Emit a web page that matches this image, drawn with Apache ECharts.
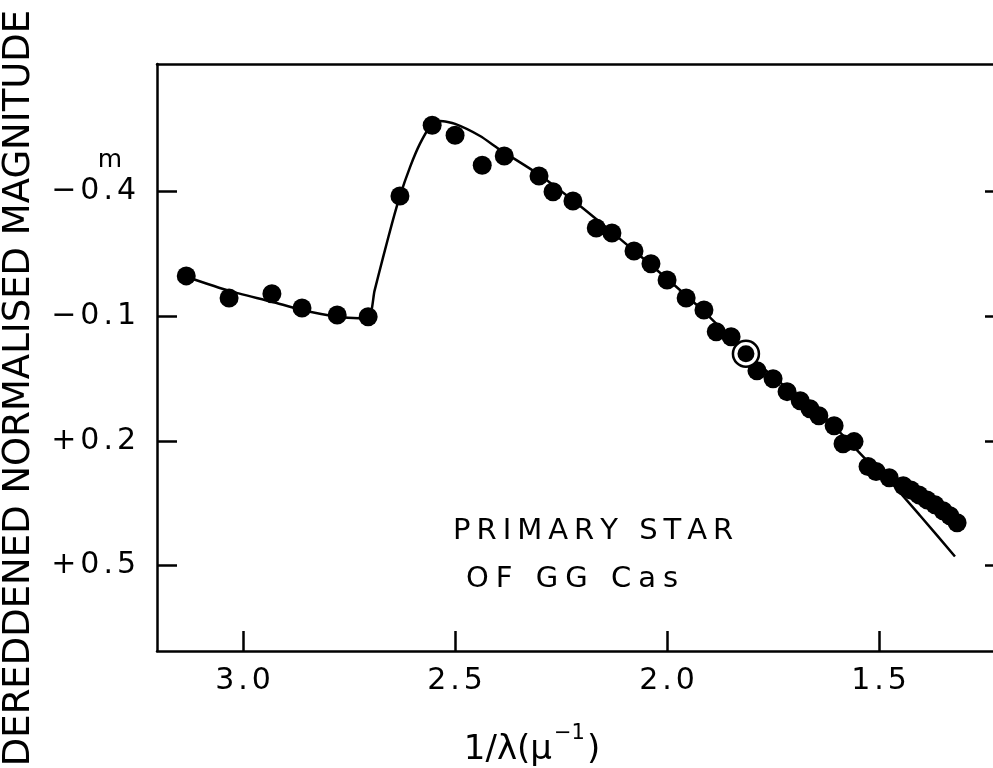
<!DOCTYPE html>
<html>
<head>
<meta charset="utf-8">
<script src="https://cdn.jsdelivr.net/npm/echarts@6/dist/echarts.min.js"></script>
<style>
html, body { margin: 0; background: #fff; }
#chart { width: 993px; height: 768px; }
</style>
</head>
<body>
<div id="chart"></div>
<script>
// tick positions
const xTicks = [3.0, 2.5, 2.0, 1.5];
const yTicks = [-0.4, -0.1, 0.2, 0.5];

// observed points (1/lambda, magnitude)
const dotX = [3.134, 3.033, 2.932, 2.861, 2.778, 2.705, 2.630, 2.554, 2.500, 2.436,
    2.384, 2.302, 2.269, 2.222, 2.167, 2.130, 2.078, 2.038, 2.000, 1.955,
    1.913, 1.884, 1.849, 1.788, 1.750, 1.717, 1.686, 1.663, 1.642, 1.606,
    1.585, 1.559, 1.526, 1.507, 1.476, 1.443, 1.425, 1.406, 1.387, 1.368,
    1.349, 1.333, 1.316];
const dotY = [-0.196, -0.143, -0.153, -0.119, -0.102, -0.098, -0.388, -0.558, -0.534, -0.462,
    -0.484, -0.436, -0.398, -0.376, -0.311, -0.299, -0.256, -0.225, -0.186, -0.143,
    -0.114, -0.062, -0.050, 0.032, 0.051, 0.082, 0.104, 0.123, 0.140, 0.164,
    0.207, 0.202, 0.262, 0.274, 0.289, 0.308, 0.318, 0.330, 0.342, 0.354,
    0.368, 0.380, 0.397];

// the ringed point
const ringX = [1.814];
const ringY = [-0.009];

// fitted curve
const curveX = [3.134, 3.033, 2.932, 2.861, 2.778, 2.705, 2.690, 2.670, 2.649, 2.630,
    2.606, 2.583, 2.559, 2.535, 2.500, 2.441, 2.394, 2.300, 2.205, 2.111,
    2.000, 1.913, 1.814, 1.710, 1.606, 1.526, 1.474, 1.403, 1.321];
const curveY = [-0.194, -0.160, -0.134, -0.114, -0.098, -0.093, -0.160, -0.240, -0.321, -0.388,
    -0.458, -0.513, -0.554, -0.568, -0.561, -0.532, -0.499, -0.438, -0.364, -0.285,
    -0.189, -0.110, -0.011, 0.080, 0.166, 0.250, 0.298, 0.380, 0.478];

const FONT = 'DejaVu Sans';

// rich text with a little space between letters
function spread(str, key) {
    return str.split('').map((ch) => '{' + key + '|' + ch + '}').join('');
}

const zip = (xs, ys) => xs.map((x, i) => [x, ys[i]]);

const chart = echarts.init(document.getElementById('chart'));

const tickRich = {
    t: { fontFamily: FONT, fontSize: 30, color: '#000', padding: [0, 2, 0, 2] }
};
const frameLine = { onZero: false, lineStyle: { color: '#000', width: 2.5 } };
const tickLine = { color: '#000', width: 2.5 };

chart.setOption({
    animation: false,
    backgroundColor: '#fff',
    grid: { left: 157, top: 64, right: -12, bottom: 117, outerBoundsMode: 'none' },
    xAxis: [
        {
            type: 'value',
            inverse: true,
            min: 1.203,
            max: 3.203,
            splitLine: { show: false },
            axisLine: frameLine,
            axisTick: { inside: true, length: 20, customValues: xTicks, lineStyle: tickLine },
            axisLabel: {
                margin: 15,
                customValues: xTicks,
                formatter: (v) => spread(v.toFixed(1), 't'),
                rich: tickRich
            }
        },
        {
            type: 'value',
            position: 'top',
            inverse: true,
            min: 1.203,
            max: 3.203,
            splitLine: { show: false },
            axisLine: frameLine,
            axisTick: { show: false },
            axisLabel: { show: false }
        }
    ],
    yAxis: [
        {
            type: 'value',
            inverse: true,
            min: -0.705,
            max: 0.705,
            splitLine: { show: false },
            axisLine: frameLine,
            axisTick: { inside: true, length: 20, customValues: yTicks, lineStyle: tickLine },
            axisLabel: {
                margin: 19,
                customValues: yTicks,
                formatter: (v) => spread((v < 0 ? '−' : '+') + Math.abs(v).toFixed(1), 't'),
                rich: tickRich
            }
        },
        {
            type: 'value',
            position: 'right',
            inverse: true,
            min: -0.705,
            max: 0.705,
            splitLine: { show: false },
            axisLine: frameLine,
            axisTick: { inside: true, length: 20, customValues: yTicks, lineStyle: tickLine },
            axisLabel: { show: false }
        }
    ],
    series: [
        {
            type: 'line',
            data: zip(curveX, curveY),
            smooth: 0.2,
            showSymbol: false,
            lineStyle: { color: '#000', width: 2.5 },
            z: 2
        },
        {
            type: 'scatter',
            data: zip(dotX, dotY),
            symbol: 'circle',
            symbolSize: 19,
            itemStyle: { color: '#000', opacity: 1 },
            z: 3
        },
        {
            type: 'scatter',
            data: zip(ringX, ringY),
            symbol: 'circle',
            symbolSize: 26,
            itemStyle: { color: '#fff', borderColor: '#000', borderWidth: 2.5, opacity: 1 },
            z: 4
        },
        {
            type: 'scatter',
            data: zip(ringX, ringY),
            symbol: 'circle',
            symbolSize: 17,
            itemStyle: { color: '#000', opacity: 1 },
            z: 5
        }
    ],
    graphic: [
        {
            type: 'text',
            x: 19,
            y: 388,
            rotation: Math.PI / 2,
            style: {
                text: 'DEREDDENED NORMALISED MAGNITUDE',
                font: '37px "DejaVu Sans"',
                fill: '#000',
                align: 'center',
                verticalAlign: 'middle'
            }
        },
        {
            type: 'text',
            x: 110,
            y: 160,
            style: { text: 'm', font: '25px "DejaVu Sans"', fill: '#000', align: 'center', verticalAlign: 'middle' }
        },
        {
            type: 'text',
            left: 453,
            top: 517,
            style: {
                text: spread('PRIMARY STAR', 'a'),
                rich: { a: { fontFamily: FONT, fontSize: 29, color: '#000', padding: [0, 3, 0, 3] } }
            }
        },
        {
            type: 'text',
            left: 466,
            top: 565,
            style: {
                text: spread('OF GG Cas', 'a'),
                rich: { a: { fontFamily: FONT, fontSize: 29, color: '#000', padding: [0, 3.5, 0, 3.5] } }
            }
        },
        {
            type: 'text',
            x: 532,
            y: 745,
            style: {
                text: '{n|1/λ(μ}{s|−1}{n|)}',
                align: 'center',
                verticalAlign: 'middle',
                rich: {
                    n: { fontFamily: FONT, fontSize: 34, color: '#000', lineHeight: 44, verticalAlign: 'bottom', padding: [0, 2, 0, 2] },
                    s: { fontFamily: FONT, fontSize: 21, color: '#000', verticalAlign: 'top' }
                }
            }
        }
    ]
});
</script>
</body>
</html>
